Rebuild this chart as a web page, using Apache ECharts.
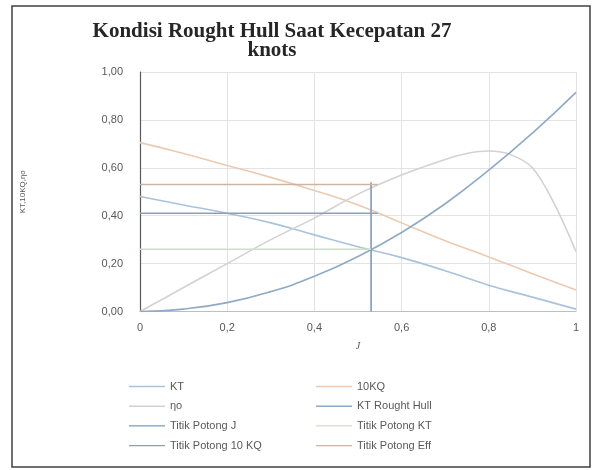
<!DOCTYPE html>
<html>
<head>
<meta charset="utf-8">
<script src="https://cdn.jsdelivr.net/npm/echarts@6/dist/echarts.min.js"></script>
<style>
html,body{margin:0;padding:0;background:#fff;}
#c{width:602px;height:470px;}
</style>
</head>
<body>
<div id="c"></div>
<script>
// ---- data ----
const titleText = "Kondisi Rought Hull Saat Kecepatan 27\nknots";
const yAxisName = "KT,10KQ,\u03b7o";
const xAxisName = "J";
const xTicks = [0, 0.2, 0.4, 0.6, 0.8, 1];
const yTicks = [0, 0.2, 0.4, 0.6, 0.8, 1];

const jValues = [0, 0.1, 0.2, 0.3, 0.4, 0.5, 0.6, 0.7, 0.8, 0.9, 1.0];
const ktValues = [0.48, 0.445, 0.41, 0.37, 0.32, 0.27, 0.225, 0.17, 0.11, 0.06, 0.01];
const kq10Values = [0.705, 0.66, 0.61, 0.56, 0.505, 0.445, 0.37, 0.295, 0.228, 0.158, 0.09];
const etaJ = [0, 0.1, 0.2, 0.3, 0.4, 0.5, 0.6, 0.7, 0.75, 0.8, 0.85, 0.9, 0.95, 1.0];
const etaValues = [0, 0.10, 0.20, 0.30, 0.39, 0.49, 0.57, 0.635, 0.66, 0.67, 0.655, 0.60, 0.45, 0.25];
const ktHullValues = [0, 0.01, 0.037, 0.083, 0.147, 0.23, 0.33, 0.45, 0.59, 0.745, 0.915];

const potongJ = [[0.53, 0], [0.53, 0.54]];
const potongKT = [[0, 0.26], [0.53, 0.26]];
const potong10KQ = [[0, 0.41], [0.545, 0.41]];
const potongEff = [[0, 0.53], [0.545, 0.53]];

const names = ["KT", "10KQ", "\u03b7o", "KT Rought Hull", "Titik Potong J", "Titik Potong KT", "Titik Potong 10 KQ", "Titik Potong Eff"];
const colors = ["#a9c3dc", "#eccab2", "#d2d2d2", "#8eaac6", "#7d9bb5", "#cddfc6", "#8f9fb0", "#cfb3a0"];

const zip = (xs, ys) => xs.map((x, i) => [x, ys[i]]);

const lineSeries = (name, data, color, smooth) => ({
  name, type: 'line', data, smooth: smooth || false, showSymbol: false, symbol: 'none',
  lineStyle: { color, width: 1.6 }, itemStyle: { color }, animation: false
});

const chart = echarts.init(document.getElementById('c'));
const legendCommon = {
  orient: 'vertical', top: 376, itemWidth: 36, itemHeight: 14, itemGap: 8.7,
  icon: 'path://M0,0 L36,0 L36,1.4 L0,1.4 Z',
  textStyle: { color: '#595959', fontSize: 11, fontFamily: 'Liberation Sans, Arial, sans-serif' }
};
chart.setOption({
  backgroundColor: '#fff',
  animation: false,
  color: colors,
  title: {
    text: titleText, left: 267, textAlign: 'center', top: 17,
    textStyle: { fontFamily: 'Liberation Serif, Times New Roman, serif', fontWeight: 'bold', fontSize: 21, lineHeight: 19, color: '#262626' }
  },
  graphic: [{
    type: 'rect', shape: { x: 12, y: 6, width: 578, height: 461 },
    style: { fill: 'none', stroke: '#404040', lineWidth: 1.5 }, silent: true
  }],
  legend: [
    Object.assign({}, legendCommon, { left: 124, data: [names[0], names[2], names[4], names[6]] }),
    Object.assign({}, legendCommon, { left: 311, data: [names[1], names[3], names[5], names[7]] })
  ],
  grid: { left: 140, right: 26, top: 72, bottom: 158.5 },
  xAxis: {
    type: 'value', min: 0, max: 1, interval: 0.2,
    name: xAxisName, nameLocation: 'middle', nameGap: 30,
    nameTextStyle: { fontStyle: 'italic', color: '#595959', fontSize: 10, fontFamily: 'Liberation Serif, serif' },
    axisLine: { show: true, lineStyle: { color: '#bfbfbf', width: 1 } },
    axisTick: { show: false },
    splitLine: { show: true, lineStyle: { color: '#e3e3e3' } },
    axisLabel: { color: '#595959', fontSize: 11, margin: 11, fontFamily: 'Liberation Sans, Arial, sans-serif',
      formatter: v => (xTicks.includes(v) ? String(v).replace('.', ',') : '') }
  },
  yAxis: {
    type: 'value', min: 0, max: 1, interval: 0.2,
    name: yAxisName, nameLocation: 'middle', nameGap: 113, nameRotate: 90,
    nameTextStyle: { color: '#595959', fontSize: 8, fontFamily: 'Liberation Sans, Arial, sans-serif' },
    axisLine: { show: true, lineStyle: { color: '#595959', width: 1.2 } },
    axisTick: { show: false },
    splitLine: { show: true, lineStyle: { color: '#e3e3e3' } },
    axisLabel: { color: '#595959', fontSize: 11, margin: 17, fontFamily: 'Liberation Sans, Arial, sans-serif',
      formatter: v => (yTicks.includes(v) ? v.toFixed(2).replace('.', ',') : '') }
  },
  series: [
    lineSeries(names[0], zip(jValues, ktValues), colors[0], true),
    lineSeries(names[1], zip(jValues, kq10Values), colors[1], true),
    lineSeries(names[2], zip(etaJ, etaValues), colors[2], 0.35),
    lineSeries(names[3], zip(jValues, ktHullValues), colors[3], true),
    lineSeries(names[4], potongJ, colors[4]),
    lineSeries(names[5], potongKT, colors[5]),
    lineSeries(names[6], potong10KQ, colors[6]),
    lineSeries(names[7], potongEff, colors[7])
  ]
});
</script>
</body>
</html>
